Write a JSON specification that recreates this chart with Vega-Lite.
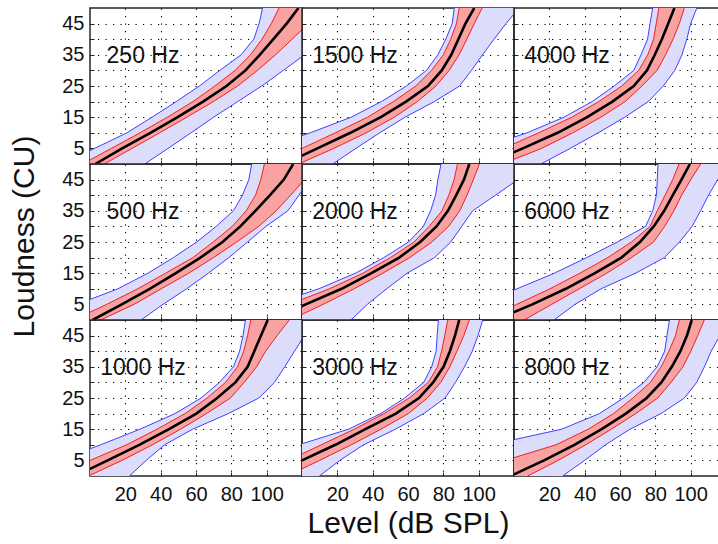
{
"$schema": "https://vega.github.io/schema/vega-lite/v6.json",
"padding": {"left": 9, "top": 7, "right": 0, "bottom": 0},
"background": "white",
"columns": 3,
"spacing": 0,
"bounds": "flush",
"data": {"values": [
{"panel":"250 Hz","cu":0,"bl":-15.9,"rl":-4.3,"m":3,"rh":8,"bh":31},
{"panel":"250 Hz","cu":5,"bl":2.6,"rl":12.1,"m":18.2,"rh":23.8,"bh":44.2},
{"panel":"250 Hz","cu":10,"bl":20.9,"rl":28.3,"m":34.2,"rh":39.4,"bh":57.2},
{"panel":"250 Hz","cu":15,"bl":35.1,"rl":43.8,"m":49.6,"rh":54.8,"bh":70},
{"panel":"250 Hz","cu":20,"bl":48.8,"rl":58.3,"m":64,"rh":69.8,"bh":83.6},
{"panel":"250 Hz","cu":25,"bl":61.9,"rl":70.7,"m":77.3,"rh":83.6,"bh":97.2},
{"panel":"250 Hz","cu":30,"bl":73.5,"rl":82.1,"m":88,"rh":94.8,"bh":109.4},
{"panel":"250 Hz","cu":35,"bl":85.5,"rl":90.8,"m":96.1,"rh":105,"bh":121.5},
{"panel":"250 Hz","cu":40,"bl":92.7,"rl":97.4,"m":103.8,"rh":114.4,"bh":133.5},
{"panel":"250 Hz","cu":45,"bl":95.7,"rl":102.6,"m":111.3,"rh":123.7,"bh":145.6},
{"panel":"250 Hz","cu":50,"bl":97.7,"rl":107,"m":118,"rh":133,"bh":157.7},
{"panel":"500 Hz","cu":0,"bl":-30.7,"rl":-9.4,"m":1.5,"rh":6,"bh":28.9},
{"panel":"500 Hz","cu":5,"bl":-7.4,"rl":9.4,"m":18,"rh":24.9,"bh":41.3},
{"panel":"500 Hz","cu":10,"bl":15.8,"rl":27,"m":33.8,"rh":40.3,"bh":54.7},
{"panel":"500 Hz","cu":15,"bl":32.8,"rl":42.8,"m":48.6,"rh":55.9,"bh":67},
{"panel":"500 Hz","cu":20,"bl":47.2,"rl":58.2,"m":62.5,"rh":69.9,"bh":78.6},
{"panel":"500 Hz","cu":25,"bl":60.4,"rl":69.7,"m":75,"rh":83,"bh":89.2},
{"panel":"500 Hz","cu":30,"bl":71.4,"rl":80.5,"m":85.1,"rh":95.5,"bh":99.6},
{"panel":"500 Hz","cu":35,"bl":81.2,"rl":88.4,"m":93.6,"rh":105.4,"bh":112},
{"panel":"500 Hz","cu":40,"bl":86.3,"rl":93.7,"m":101.9,"rh":113.6,"bh":118.3},
{"panel":"500 Hz","cu":45,"bl":89.9,"rl":96.7,"m":109.7,"rh":121.4,"bh":124.5},
{"panel":"500 Hz","cu":50,"bl":91.5,"rl":98.7,"m":115,"rh":129,"bh":130.7},
{"panel":"1000 Hz","cu":0,"bl":-40.5,"rl":-20.8,"m":-8.5,"rh":-0.8,"bh":22.3},
{"panel":"1000 Hz","cu":5,"bl":-17.2,"rl":0,"m":10,"rh":18.1,"bh":31.8},
{"panel":"1000 Hz","cu":10,"bl":6,"rl":20.7,"m":27.9,"rh":35.3,"bh":42.2},
{"panel":"1000 Hz","cu":15,"bl":28.3,"rl":37.9,"m":44.7,"rh":51.3,"bh":58.1},
{"panel":"1000 Hz","cu":20,"bl":48.1,"rl":53.8,"m":60.2,"rh":65.9,"bh":78.3},
{"panel":"1000 Hz","cu":25,"bl":62.9,"rl":66.3,"m":72,"rh":79.5,"bh":95.6},
{"panel":"1000 Hz","cu":30,"bl":73.3,"rl":76.7,"m":82.3,"rh":87.3,"bh":104.4},
{"panel":"1000 Hz","cu":35,"bl":81.2,"rl":83.5,"m":89.2,"rh":94.3,"bh":110.2},
{"panel":"1000 Hz","cu":40,"bl":84.7,"rl":87,"m":93,"rh":99.4,"bh":115.8},
{"panel":"1000 Hz","cu":45,"bl":86.6,"rl":89.2,"m":96.8,"rh":105.9,"bh":121.3},
{"panel":"1000 Hz","cu":50,"bl":88,"rl":91,"m":100.6,"rh":112.8,"bh":126.9},
{"panel":"1500 Hz","cu":0,"bl":-47.9,"rl":-18.9,"m":-10.2,"rh":-2,"bh":17.4},
{"panel":"1500 Hz","cu":5,"bl":-21.6,"rl":0,"m":8.7,"rh":18,"bh":30.5},
{"panel":"1500 Hz","cu":10,"bl":4.7,"rl":18.9,"m":27.4,"rh":36.4,"bh":44},
{"panel":"1500 Hz","cu":15,"bl":27.8,"rl":37.1,"m":44.6,"rh":52.3,"bh":58.3},
{"panel":"1500 Hz","cu":20,"bl":44.9,"rl":51.7,"m":58.9,"rh":65.3,"bh":74.9},
{"panel":"1500 Hz","cu":25,"bl":59.1,"rl":64.4,"m":71.3,"rh":75.8,"bh":89.2},
{"panel":"1500 Hz","cu":30,"bl":70.5,"rl":73.3,"m":79.1,"rh":83.3,"bh":95.9},
{"panel":"1500 Hz","cu":35,"bl":76.9,"rl":80,"m":84.5,"rh":88.9,"bh":102.2},
{"panel":"1500 Hz","cu":40,"bl":81.4,"rl":84.2,"m":88.5,"rh":93.3,"bh":108.7},
{"panel":"1500 Hz","cu":45,"bl":85,"rl":87.4,"m":92.5,"rh":97.5,"bh":115.5},
{"panel":"1500 Hz","cu":50,"bl":86.2,"rl":89,"m":97.5,"rh":102,"bh":122.8},
{"panel":"2000 Hz","cu":0,"bl":-43,"rl":-30,"m":-18.8,"rh":-6.7,"bh":27.7},
{"panel":"2000 Hz","cu":5,"bl":-16.8,"rl":-7.3,"m":2.1,"rh":11.9,"bh":37},
{"panel":"2000 Hz","cu":10,"bl":9.5,"rl":15.5,"m":22.4,"rh":29.5,"bh":47.9},
{"panel":"2000 Hz","cu":15,"bl":30.3,"rl":34.5,"m":39.3,"rh":45.8,"bh":59.5},
{"panel":"2000 Hz","cu":20,"bl":46.3,"rl":50,"m":55,"rh":61,"bh":75},
{"panel":"2000 Hz","cu":25,"bl":60.3,"rl":63.4,"m":66.9,"rh":73.5,"bh":84.2},
{"panel":"2000 Hz","cu":30,"bl":68.7,"rl":72,"m":76.1,"rh":83,"bh":90.4},
{"panel":"2000 Hz","cu":35,"bl":72.8,"rl":79.2,"m":82.6,"rh":89.3,"bh":96.6},
{"panel":"2000 Hz","cu":40,"bl":75.6,"rl":83.1,"m":87.3,"rh":93.4,"bh":109.5},
{"panel":"2000 Hz","cu":45,"bl":76.9,"rl":86.1,"m":91.7,"rh":97,"bh":122.3},
{"panel":"2000 Hz","cu":50,"bl":78.7,"rl":88,"m":94.7,"rh":100.4,"bh":135},
{"panel":"3000 Hz","cu":0,"bl":-64,"rl":-26.8,"m":-18.9,"rh":-8.5,"bh":9.8},
{"panel":"3000 Hz","cu":5,"bl":-33,"rl":-7.9,"m":0,"rh":10,"bh":21.4},
{"panel":"3000 Hz","cu":10,"bl":-1.9,"rl":10.9,"m":18.9,"rh":27.9,"bh":34.9},
{"panel":"3000 Hz","cu":15,"bl":26.3,"rl":29.6,"m":35.9,"rh":44.7,"bh":52.9},
{"panel":"3000 Hz","cu":20,"bl":44.6,"rl":46.4,"m":53.1,"rh":60.2,"bh":68.9},
{"panel":"3000 Hz","cu":25,"bl":58.1,"rl":60.7,"m":66.2,"rh":71,"bh":81},
{"panel":"3000 Hz","cu":30,"bl":68.9,"rl":71.5,"m":74.2,"rh":78.5,"bh":86.9},
{"panel":"3000 Hz","cu":35,"bl":73.4,"rl":76.7,"m":80.1,"rh":83.7,"bh":92},
{"panel":"3000 Hz","cu":40,"bl":75.9,"rl":79,"m":83.7,"rh":87.7,"bh":96.4},
{"panel":"3000 Hz","cu":45,"bl":76.5,"rl":80.8,"m":86.6,"rh":91.6,"bh":99.6},
{"panel":"3000 Hz","cu":50,"bl":77.2,"rl":82.5,"m":89,"rh":94.7,"bh":102.3},
{"panel":"4000 Hz","cu":0,"bl":-45,"rl":-26,"m":-15.8,"rh":-6.7,"bh":15.3},
{"panel":"4000 Hz","cu":5,"bl":-19,"rl":-6,"m":5,"rh":15.6,"bh":31.8},
{"panel":"4000 Hz","cu":10,"bl":7.4,"rl":14,"m":24.7,"rh":33.3,"bh":47.7},
{"panel":"4000 Hz","cu":15,"bl":28.3,"rl":32.7,"m":41.4,"rh":49.2,"bh":62.7},
{"panel":"4000 Hz","cu":20,"bl":44.2,"rl":48,"m":55.7,"rh":62.9,"bh":76},
{"panel":"4000 Hz","cu":25,"bl":56.7,"rl":61,"m":67.8,"rh":72.4,"bh":84.5},
{"panel":"4000 Hz","cu":30,"bl":67.8,"rl":70.6,"m":75.3,"rh":81,"bh":91},
{"panel":"4000 Hz","cu":35,"bl":71.9,"rl":75.7,"m":79.7,"rh":85.8,"bh":95.1},
{"panel":"4000 Hz","cu":40,"bl":75.6,"rl":79,"m":83.7,"rh":90,"bh":97.8},
{"panel":"4000 Hz","cu":45,"bl":77,"rl":80.5,"m":87.3,"rh":93.6,"bh":100},
{"panel":"4000 Hz","cu":50,"bl":78.5,"rl":82,"m":90.8,"rh":96.4,"bh":103.5},
{"panel":"6000 Hz","cu":0,"bl":-40.5,"rl":-17.4,"m":-10.4,"rh":5.7,"bh":22.6},
{"panel":"6000 Hz","cu":5,"bl":-19.4,"rl":1.5,"m":10.4,"rh":21.3,"bh":34.5},
{"panel":"6000 Hz","cu":10,"bl":1.7,"rl":20.3,"m":29.3,"rh":36.9,"bh":49.3},
{"panel":"6000 Hz","cu":15,"bl":22.8,"rl":37.3,"m":45.8,"rh":52.5,"bh":68.8},
{"panel":"6000 Hz","cu":20,"bl":41.1,"rl":53.1,"m":60.8,"rh":66.5,"bh":85.1},
{"panel":"6000 Hz","cu":25,"bl":58.5,"rl":66.5,"m":71.3,"rh":79,"bh":93.7},
{"panel":"6000 Hz","cu":30,"bl":74.5,"rl":77,"m":79.1,"rh":85.3,"bh":100.8},
{"panel":"6000 Hz","cu":35,"bl":78.5,"rl":81.1,"m":85,"rh":90.5,"bh":105.6},
{"panel":"6000 Hz","cu":40,"bl":80.6,"rl":85.5,"m":89.9,"rh":94.9,"bh":110.1},
{"panel":"6000 Hz","cu":45,"bl":81.1,"rl":89.8,"m":94.8,"rh":100.1,"bh":115.3},
{"panel":"6000 Hz","cu":50,"bl":81.5,"rl":93.4,"m":99.6,"rh":105.7,"bh":120.5},
{"panel":"8000 Hz","cu":0,"bl":-108,"rl":-36,"m":-1.9,"rh":7.7,"bh":27.5},
{"panel":"8000 Hz","cu":5,"bl":-61,"rl":-5,"m":17,"rh":25,"bh":40},
{"panel":"8000 Hz","cu":10,"bl":-13.3,"rl":23.8,"m":34.2,"rh":40.6,"bh":51.8},
{"panel":"8000 Hz","cu":15,"bl":27,"rl":42,"m":49.6,"rh":55.1,"bh":65.7},
{"panel":"8000 Hz","cu":20,"bl":48.3,"rl":56.3,"m":63.3,"rh":68.9,"bh":83.2},
{"panel":"8000 Hz","cu":25,"bl":62,"rl":67.3,"m":75.1,"rh":81.4,"bh":96.5},
{"panel":"8000 Hz","cu":30,"bl":73.5,"rl":77.2,"m":83.4,"rh":88.9,"bh":103.4},
{"panel":"8000 Hz","cu":35,"bl":81,"rl":83.3,"m":89.3,"rh":95.6,"bh":107.8},
{"panel":"8000 Hz","cu":40,"bl":85.3,"rl":87.7,"m":94.2,"rh":100.1,"bh":111.6},
{"panel":"8000 Hz","cu":45,"bl":86.6,"rl":91.4,"m":97.9,"rh":104,"bh":116.6},
{"panel":"8000 Hz","cu":50,"bl":88,"rl":93.6,"m":100.6,"rh":107.7,"bh":121.5}
]},
"concat": [
{"width": 212, "height": 156, "transform": [{"filter": "datum.panel == '250 Hz'"}],
 "encoding": {"y": {"field": "cu", "type": "quantitative", "title": null, "scale": {"domain": [0, 50], "nice": false, "zero": false}, "axis": {"values": [5,10,15,20,25,30,35,40,45], "labelExpr": "datum.value % 10 == 5 ? datum.label : ''"}}},
 "layer": [
{"mark": {"type": "area", "orient": "horizontal", "clip": true, "color": "#dcdcfb"}, "encoding": {"x": {"field": "bl", "type": "quantitative", "title": null, "scale": {"domain": [0, 120], "nice": false, "zero": false}, "axis": {"values": [20,40,60,80,100], "labels": false}}, "x2": {"field": "bh"}}},
{"mark": {"type": "line", "clip": true, "color": "#4040ff", "strokeWidth": 1}, "encoding": {"x": {"field": "bl", "type": "quantitative", "title": null}, "order": {"field": "cu"}}},
{"mark": {"type": "line", "clip": true, "color": "#4040ff", "strokeWidth": 1}, "encoding": {"x": {"field": "bh", "type": "quantitative", "title": null}, "order": {"field": "cu"}}},
{"mark": {"type": "area", "orient": "horizontal", "clip": true, "color": "#f8a2a2"}, "encoding": {"x": {"field": "rl", "type": "quantitative", "title": null}, "x2": {"field": "rh"}}},
{"mark": {"type": "line", "clip": true, "color": "#f22020", "strokeWidth": 1}, "encoding": {"x": {"field": "rl", "type": "quantitative", "title": null}, "order": {"field": "cu"}}},
{"mark": {"type": "line", "clip": true, "color": "#f22020", "strokeWidth": 1}, "encoding": {"x": {"field": "rh", "type": "quantitative", "title": null}, "order": {"field": "cu"}}},
{"mark": {"type": "line", "clip": true, "color": "#000000", "strokeWidth": 2.6}, "encoding": {"x": {"field": "m", "type": "quantitative", "title": null}, "order": {"field": "cu"}}},
{"transform": [{"filter": "datum.cu == 0"}], "mark": {"type": "text", "fontSize": 23, "align": "center", "baseline": "middle", "color": "#111"}, "encoding": {"x": {"datum": 30, "type": "quantitative"}, "y": {"datum": 34.6, "type": "quantitative"}, "text": {"field": "panel"}}}
]},
{"width": 212, "height": 156, "transform": [{"filter": "datum.panel == '1500 Hz'"}],
 "encoding": {"y": {"field": "cu", "type": "quantitative", "title": null, "scale": {"domain": [0, 50], "nice": false, "zero": false}, "axis": {"values": [5,10,15,20,25,30,35,40,45], "labels": false}}},
 "layer": [
{"mark": {"type": "area", "orient": "horizontal", "clip": true, "color": "#dcdcfb"}, "encoding": {"x": {"field": "bl", "type": "quantitative", "title": null, "scale": {"domain": [0, 120], "nice": false, "zero": false}, "axis": {"values": [20,40,60,80,100], "labels": false}}, "x2": {"field": "bh"}}},
{"mark": {"type": "line", "clip": true, "color": "#4040ff", "strokeWidth": 1}, "encoding": {"x": {"field": "bl", "type": "quantitative", "title": null}, "order": {"field": "cu"}}},
{"mark": {"type": "line", "clip": true, "color": "#4040ff", "strokeWidth": 1}, "encoding": {"x": {"field": "bh", "type": "quantitative", "title": null}, "order": {"field": "cu"}}},
{"mark": {"type": "area", "orient": "horizontal", "clip": true, "color": "#f8a2a2"}, "encoding": {"x": {"field": "rl", "type": "quantitative", "title": null}, "x2": {"field": "rh"}}},
{"mark": {"type": "line", "clip": true, "color": "#f22020", "strokeWidth": 1}, "encoding": {"x": {"field": "rl", "type": "quantitative", "title": null}, "order": {"field": "cu"}}},
{"mark": {"type": "line", "clip": true, "color": "#f22020", "strokeWidth": 1}, "encoding": {"x": {"field": "rh", "type": "quantitative", "title": null}, "order": {"field": "cu"}}},
{"mark": {"type": "line", "clip": true, "color": "#000000", "strokeWidth": 2.6}, "encoding": {"x": {"field": "m", "type": "quantitative", "title": null}, "order": {"field": "cu"}}},
{"transform": [{"filter": "datum.cu == 0"}], "mark": {"type": "text", "fontSize": 23, "align": "center", "baseline": "middle", "color": "#111"}, "encoding": {"x": {"datum": 30, "type": "quantitative"}, "y": {"datum": 34.6, "type": "quantitative"}, "text": {"field": "panel"}}}
]},
{"width": 212, "height": 156, "transform": [{"filter": "datum.panel == '4000 Hz'"}],
 "encoding": {"y": {"field": "cu", "type": "quantitative", "title": null, "scale": {"domain": [0, 50], "nice": false, "zero": false}, "axis": {"values": [5,10,15,20,25,30,35,40,45], "labels": false}}},
 "layer": [
{"mark": {"type": "area", "orient": "horizontal", "clip": true, "color": "#dcdcfb"}, "encoding": {"x": {"field": "bl", "type": "quantitative", "title": null, "scale": {"domain": [0, 120], "nice": false, "zero": false}, "axis": {"values": [20,40,60,80,100], "labels": false}}, "x2": {"field": "bh"}}},
{"mark": {"type": "line", "clip": true, "color": "#4040ff", "strokeWidth": 1}, "encoding": {"x": {"field": "bl", "type": "quantitative", "title": null}, "order": {"field": "cu"}}},
{"mark": {"type": "line", "clip": true, "color": "#4040ff", "strokeWidth": 1}, "encoding": {"x": {"field": "bh", "type": "quantitative", "title": null}, "order": {"field": "cu"}}},
{"mark": {"type": "area", "orient": "horizontal", "clip": true, "color": "#f8a2a2"}, "encoding": {"x": {"field": "rl", "type": "quantitative", "title": null}, "x2": {"field": "rh"}}},
{"mark": {"type": "line", "clip": true, "color": "#f22020", "strokeWidth": 1}, "encoding": {"x": {"field": "rl", "type": "quantitative", "title": null}, "order": {"field": "cu"}}},
{"mark": {"type": "line", "clip": true, "color": "#f22020", "strokeWidth": 1}, "encoding": {"x": {"field": "rh", "type": "quantitative", "title": null}, "order": {"field": "cu"}}},
{"mark": {"type": "line", "clip": true, "color": "#000000", "strokeWidth": 2.6}, "encoding": {"x": {"field": "m", "type": "quantitative", "title": null}, "order": {"field": "cu"}}},
{"transform": [{"filter": "datum.cu == 0"}], "mark": {"type": "text", "fontSize": 23, "align": "center", "baseline": "middle", "color": "#111"}, "encoding": {"x": {"datum": 30, "type": "quantitative"}, "y": {"datum": 34.6, "type": "quantitative"}, "text": {"field": "panel"}}}
]},
{"width": 212, "height": 156, "transform": [{"filter": "datum.panel == '500 Hz'"}],
 "encoding": {"y": {"field": "cu", "type": "quantitative", "title": "Loudness (CU)", "scale": {"domain": [0, 50], "nice": false, "zero": false}, "axis": {"values": [5,10,15,20,25,30,35,40,45], "labelExpr": "datum.value % 10 == 5 ? datum.label : ''", "titlePadding": 22, "titleY": 72}}},
 "layer": [
{"mark": {"type": "area", "orient": "horizontal", "clip": true, "color": "#dcdcfb"}, "encoding": {"x": {"field": "bl", "type": "quantitative", "title": null, "scale": {"domain": [0, 120], "nice": false, "zero": false}, "axis": {"values": [20,40,60,80,100], "labels": false}}, "x2": {"field": "bh"}}},
{"mark": {"type": "line", "clip": true, "color": "#4040ff", "strokeWidth": 1}, "encoding": {"x": {"field": "bl", "type": "quantitative", "title": null}, "order": {"field": "cu"}}},
{"mark": {"type": "line", "clip": true, "color": "#4040ff", "strokeWidth": 1}, "encoding": {"x": {"field": "bh", "type": "quantitative", "title": null}, "order": {"field": "cu"}}},
{"mark": {"type": "area", "orient": "horizontal", "clip": true, "color": "#f8a2a2"}, "encoding": {"x": {"field": "rl", "type": "quantitative", "title": null}, "x2": {"field": "rh"}}},
{"mark": {"type": "line", "clip": true, "color": "#f22020", "strokeWidth": 1}, "encoding": {"x": {"field": "rl", "type": "quantitative", "title": null}, "order": {"field": "cu"}}},
{"mark": {"type": "line", "clip": true, "color": "#f22020", "strokeWidth": 1}, "encoding": {"x": {"field": "rh", "type": "quantitative", "title": null}, "order": {"field": "cu"}}},
{"mark": {"type": "line", "clip": true, "color": "#000000", "strokeWidth": 2.6}, "encoding": {"x": {"field": "m", "type": "quantitative", "title": null}, "order": {"field": "cu"}}},
{"transform": [{"filter": "datum.cu == 0"}], "mark": {"type": "text", "fontSize": 23, "align": "center", "baseline": "middle", "color": "#111"}, "encoding": {"x": {"datum": 30, "type": "quantitative"}, "y": {"datum": 34.6, "type": "quantitative"}, "text": {"field": "panel"}}}
]},
{"width": 212, "height": 156, "transform": [{"filter": "datum.panel == '2000 Hz'"}],
 "encoding": {"y": {"field": "cu", "type": "quantitative", "title": null, "scale": {"domain": [0, 50], "nice": false, "zero": false}, "axis": {"values": [5,10,15,20,25,30,35,40,45], "labels": false}}},
 "layer": [
{"mark": {"type": "area", "orient": "horizontal", "clip": true, "color": "#dcdcfb"}, "encoding": {"x": {"field": "bl", "type": "quantitative", "title": null, "scale": {"domain": [0, 120], "nice": false, "zero": false}, "axis": {"values": [20,40,60,80,100], "labels": false}}, "x2": {"field": "bh"}}},
{"mark": {"type": "line", "clip": true, "color": "#4040ff", "strokeWidth": 1}, "encoding": {"x": {"field": "bl", "type": "quantitative", "title": null}, "order": {"field": "cu"}}},
{"mark": {"type": "line", "clip": true, "color": "#4040ff", "strokeWidth": 1}, "encoding": {"x": {"field": "bh", "type": "quantitative", "title": null}, "order": {"field": "cu"}}},
{"mark": {"type": "area", "orient": "horizontal", "clip": true, "color": "#f8a2a2"}, "encoding": {"x": {"field": "rl", "type": "quantitative", "title": null}, "x2": {"field": "rh"}}},
{"mark": {"type": "line", "clip": true, "color": "#f22020", "strokeWidth": 1}, "encoding": {"x": {"field": "rl", "type": "quantitative", "title": null}, "order": {"field": "cu"}}},
{"mark": {"type": "line", "clip": true, "color": "#f22020", "strokeWidth": 1}, "encoding": {"x": {"field": "rh", "type": "quantitative", "title": null}, "order": {"field": "cu"}}},
{"mark": {"type": "line", "clip": true, "color": "#000000", "strokeWidth": 2.6}, "encoding": {"x": {"field": "m", "type": "quantitative", "title": null}, "order": {"field": "cu"}}},
{"transform": [{"filter": "datum.cu == 0"}], "mark": {"type": "text", "fontSize": 23, "align": "center", "baseline": "middle", "color": "#111"}, "encoding": {"x": {"datum": 30, "type": "quantitative"}, "y": {"datum": 34.6, "type": "quantitative"}, "text": {"field": "panel"}}}
]},
{"width": 212, "height": 156, "transform": [{"filter": "datum.panel == '6000 Hz'"}],
 "encoding": {"y": {"field": "cu", "type": "quantitative", "title": null, "scale": {"domain": [0, 50], "nice": false, "zero": false}, "axis": {"values": [5,10,15,20,25,30,35,40,45], "labels": false}}},
 "layer": [
{"mark": {"type": "area", "orient": "horizontal", "clip": true, "color": "#dcdcfb"}, "encoding": {"x": {"field": "bl", "type": "quantitative", "title": null, "scale": {"domain": [0, 120], "nice": false, "zero": false}, "axis": {"values": [20,40,60,80,100], "labels": false}}, "x2": {"field": "bh"}}},
{"mark": {"type": "line", "clip": true, "color": "#4040ff", "strokeWidth": 1}, "encoding": {"x": {"field": "bl", "type": "quantitative", "title": null}, "order": {"field": "cu"}}},
{"mark": {"type": "line", "clip": true, "color": "#4040ff", "strokeWidth": 1}, "encoding": {"x": {"field": "bh", "type": "quantitative", "title": null}, "order": {"field": "cu"}}},
{"mark": {"type": "area", "orient": "horizontal", "clip": true, "color": "#f8a2a2"}, "encoding": {"x": {"field": "rl", "type": "quantitative", "title": null}, "x2": {"field": "rh"}}},
{"mark": {"type": "line", "clip": true, "color": "#f22020", "strokeWidth": 1}, "encoding": {"x": {"field": "rl", "type": "quantitative", "title": null}, "order": {"field": "cu"}}},
{"mark": {"type": "line", "clip": true, "color": "#f22020", "strokeWidth": 1}, "encoding": {"x": {"field": "rh", "type": "quantitative", "title": null}, "order": {"field": "cu"}}},
{"mark": {"type": "line", "clip": true, "color": "#000000", "strokeWidth": 2.6}, "encoding": {"x": {"field": "m", "type": "quantitative", "title": null}, "order": {"field": "cu"}}},
{"transform": [{"filter": "datum.cu == 0"}], "mark": {"type": "text", "fontSize": 23, "align": "center", "baseline": "middle", "color": "#111"}, "encoding": {"x": {"datum": 30, "type": "quantitative"}, "y": {"datum": 34.6, "type": "quantitative"}, "text": {"field": "panel"}}}
]},
{"width": 212, "height": 156, "transform": [{"filter": "datum.panel == '1000 Hz'"}],
 "encoding": {"y": {"field": "cu", "type": "quantitative", "title": null, "scale": {"domain": [0, 50], "nice": false, "zero": false}, "axis": {"values": [5,10,15,20,25,30,35,40,45], "labelExpr": "datum.value % 10 == 5 ? datum.label : ''"}}},
 "layer": [
{"mark": {"type": "area", "orient": "horizontal", "clip": true, "color": "#dcdcfb"}, "encoding": {"x": {"field": "bl", "type": "quantitative", "title": null, "scale": {"domain": [0, 120], "nice": false, "zero": false}, "axis": {"values": [20,40,60,80,100]}}, "x2": {"field": "bh"}}},
{"mark": {"type": "line", "clip": true, "color": "#4040ff", "strokeWidth": 1}, "encoding": {"x": {"field": "bl", "type": "quantitative", "title": null}, "order": {"field": "cu"}}},
{"mark": {"type": "line", "clip": true, "color": "#4040ff", "strokeWidth": 1}, "encoding": {"x": {"field": "bh", "type": "quantitative", "title": null}, "order": {"field": "cu"}}},
{"mark": {"type": "area", "orient": "horizontal", "clip": true, "color": "#f8a2a2"}, "encoding": {"x": {"field": "rl", "type": "quantitative", "title": null}, "x2": {"field": "rh"}}},
{"mark": {"type": "line", "clip": true, "color": "#f22020", "strokeWidth": 1}, "encoding": {"x": {"field": "rl", "type": "quantitative", "title": null}, "order": {"field": "cu"}}},
{"mark": {"type": "line", "clip": true, "color": "#f22020", "strokeWidth": 1}, "encoding": {"x": {"field": "rh", "type": "quantitative", "title": null}, "order": {"field": "cu"}}},
{"mark": {"type": "line", "clip": true, "color": "#000000", "strokeWidth": 2.6}, "encoding": {"x": {"field": "m", "type": "quantitative", "title": null}, "order": {"field": "cu"}}},
{"transform": [{"filter": "datum.cu == 0"}], "mark": {"type": "text", "fontSize": 23, "align": "center", "baseline": "middle", "color": "#111"}, "encoding": {"x": {"datum": 30, "type": "quantitative"}, "y": {"datum": 34.6, "type": "quantitative"}, "text": {"field": "panel"}}}
]},
{"width": 212, "height": 156, "transform": [{"filter": "datum.panel == '3000 Hz'"}],
 "encoding": {"y": {"field": "cu", "type": "quantitative", "title": null, "scale": {"domain": [0, 50], "nice": false, "zero": false}, "axis": {"values": [5,10,15,20,25,30,35,40,45], "labels": false}}},
 "layer": [
{"mark": {"type": "area", "orient": "horizontal", "clip": true, "color": "#dcdcfb"}, "encoding": {"x": {"field": "bl", "type": "quantitative", "title": "Level (dB SPL)", "scale": {"domain": [0, 120], "nice": false, "zero": false}, "axis": {"values": [20,40,60,80,100], "titlePadding": 4}}, "x2": {"field": "bh"}}},
{"mark": {"type": "line", "clip": true, "color": "#4040ff", "strokeWidth": 1}, "encoding": {"x": {"field": "bl", "type": "quantitative", "title": "Level (dB SPL)"}, "order": {"field": "cu"}}},
{"mark": {"type": "line", "clip": true, "color": "#4040ff", "strokeWidth": 1}, "encoding": {"x": {"field": "bh", "type": "quantitative", "title": "Level (dB SPL)"}, "order": {"field": "cu"}}},
{"mark": {"type": "area", "orient": "horizontal", "clip": true, "color": "#f8a2a2"}, "encoding": {"x": {"field": "rl", "type": "quantitative", "title": "Level (dB SPL)"}, "x2": {"field": "rh"}}},
{"mark": {"type": "line", "clip": true, "color": "#f22020", "strokeWidth": 1}, "encoding": {"x": {"field": "rl", "type": "quantitative", "title": "Level (dB SPL)"}, "order": {"field": "cu"}}},
{"mark": {"type": "line", "clip": true, "color": "#f22020", "strokeWidth": 1}, "encoding": {"x": {"field": "rh", "type": "quantitative", "title": "Level (dB SPL)"}, "order": {"field": "cu"}}},
{"mark": {"type": "line", "clip": true, "color": "#000000", "strokeWidth": 2.6}, "encoding": {"x": {"field": "m", "type": "quantitative", "title": "Level (dB SPL)"}, "order": {"field": "cu"}}},
{"transform": [{"filter": "datum.cu == 0"}], "mark": {"type": "text", "fontSize": 23, "align": "center", "baseline": "middle", "color": "#111"}, "encoding": {"x": {"datum": 30, "type": "quantitative"}, "y": {"datum": 34.6, "type": "quantitative"}, "text": {"field": "panel"}}}
]},
{"width": 212, "height": 156, "transform": [{"filter": "datum.panel == '8000 Hz'"}],
 "encoding": {"y": {"field": "cu", "type": "quantitative", "title": null, "scale": {"domain": [0, 50], "nice": false, "zero": false}, "axis": {"values": [5,10,15,20,25,30,35,40,45], "labels": false}}},
 "layer": [
{"mark": {"type": "area", "orient": "horizontal", "clip": true, "color": "#dcdcfb"}, "encoding": {"x": {"field": "bl", "type": "quantitative", "title": null, "scale": {"domain": [0, 120], "nice": false, "zero": false}, "axis": {"values": [20,40,60,80,100]}}, "x2": {"field": "bh"}}},
{"mark": {"type": "line", "clip": true, "color": "#4040ff", "strokeWidth": 1}, "encoding": {"x": {"field": "bl", "type": "quantitative", "title": null}, "order": {"field": "cu"}}},
{"mark": {"type": "line", "clip": true, "color": "#4040ff", "strokeWidth": 1}, "encoding": {"x": {"field": "bh", "type": "quantitative", "title": null}, "order": {"field": "cu"}}},
{"mark": {"type": "area", "orient": "horizontal", "clip": true, "color": "#f8a2a2"}, "encoding": {"x": {"field": "rl", "type": "quantitative", "title": null}, "x2": {"field": "rh"}}},
{"mark": {"type": "line", "clip": true, "color": "#f22020", "strokeWidth": 1}, "encoding": {"x": {"field": "rl", "type": "quantitative", "title": null}, "order": {"field": "cu"}}},
{"mark": {"type": "line", "clip": true, "color": "#f22020", "strokeWidth": 1}, "encoding": {"x": {"field": "rh", "type": "quantitative", "title": null}, "order": {"field": "cu"}}},
{"mark": {"type": "line", "clip": true, "color": "#000000", "strokeWidth": 2.6}, "encoding": {"x": {"field": "m", "type": "quantitative", "title": null}, "order": {"field": "cu"}}},
{"transform": [{"filter": "datum.cu == 0"}], "mark": {"type": "text", "fontSize": 23, "align": "center", "baseline": "middle", "color": "#111"}, "encoding": {"x": {"datum": 30, "type": "quantitative"}, "y": {"datum": 34.6, "type": "quantitative"}, "text": {"field": "panel"}}}
]}
],
"config": {
"font": "Liberation Sans",
"concat": {"spacing": 0},
"view": {"stroke": "#262626", "strokeWidth": 1.5},
"axis": {"grid": true, "gridColor": "#000000", "gridDash": [1.2, 6.3], "gridWidth": 1.1, "gridOpacity": 1, "domain": false, "ticks": true, "tickSize": -4, "tickColor": "#222222", "tickWidth": 1, "labelFont": "Liberation Sans", "labelFontSize": 20, "labelColor": "#111", "labelPadding": 10, "labelOverlap": false, "labelFlush": false, "labelBound": false, "titleFont": "Liberation Sans", "titleFontSize": 30, "titleFontWeight": "normal", "titleColor": "#111"},
"axisX": {"labelPadding": 12},
"text": {"font": "Liberation Sans"}
}
}
